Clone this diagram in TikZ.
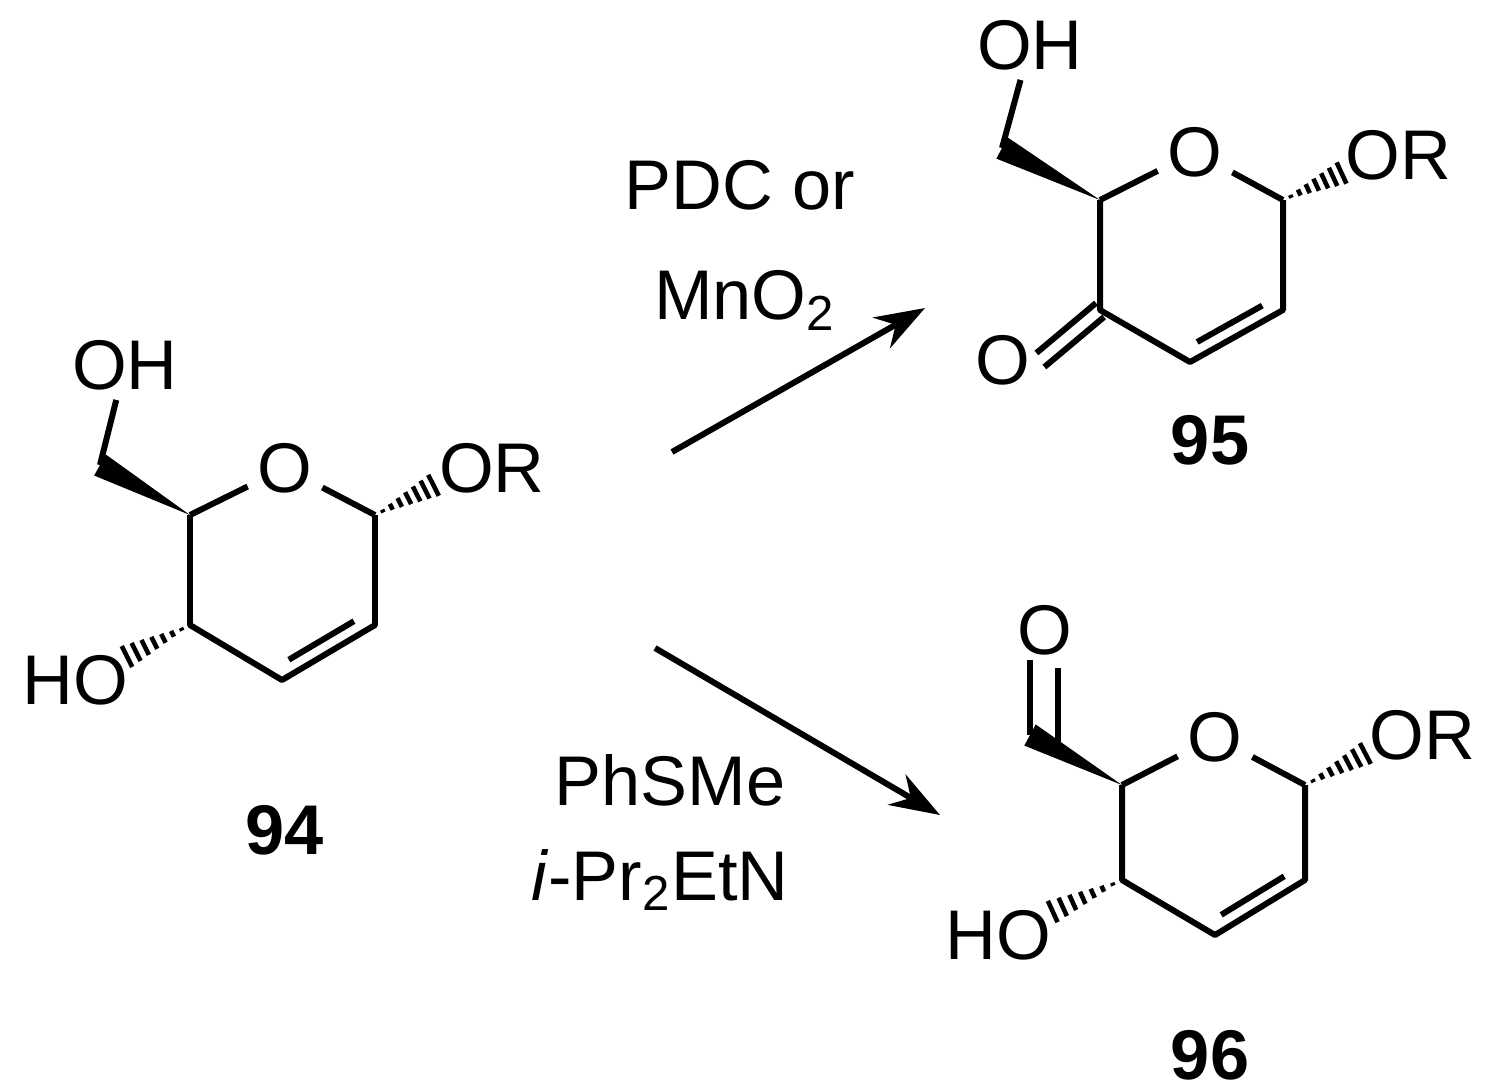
\documentclass[tikz,border=0pt]{standalone}
\usepackage{fontspec}
\setmainfont{Liberation Sans}
\usetikzlibrary{calc,arrows.meta}
\newcommand{\hashb}[2]{\foreach \t in {0.12,0.25,...,0.95}{\draw[line width=1.3pt] ($(#1)!\t!(#2)!{\t*0.13cm}!90:(#2)$) -- ($(#1)!\t!(#2)!{\t*0.13cm}!-90:(#2)$);}}
\newcommand{\wedgeb}[2]{\fill (#1) -- ($(#2)!0.12cm!90:(#1)$) -- ($(#2)!0.12cm!-90:(#1)$) -- cycle;}
\begin{document}
\begin{tikzpicture}[x=0.01cm,y=-0.01cm,line width=1.7pt,line join=round,
 atm/.style={font=\fontsize{20}{24}\selectfont,inner sep=2pt},
 num/.style={font=\fontsize{20}{24}\selectfont\bfseries},
 lab/.style={font=\fontsize{20}{24}\selectfont}]
\useasboundingbox (0,0) rectangle (1489,1090);
% ---- 94
\node[atm] (O94) at (285,468) {O};
\node[atm] (OH94) at (125,365) {OH};
\node[atm] (HO94) at (75,680) {HO};
\node[atm] (OR94) at (492,468) {OR};
\coordinate (a5) at (190,515); \coordinate (a4) at (190,625);
\coordinate (a3) at (282,680); \coordinate (a2) at (375,625);
\coordinate (a1) at (375,515); \coordinate (a6) at (100,465);
\draw (a5) -- (O94); \draw (O94) -- (a1); \draw (a1) -- (a2) -- (a3) -- (a4) -- (a5);
\draw ($(a3)!0.15!(a2)!0.14cm!90:(a2)$) -- ($(a3)!0.85!(a2)!0.14cm!-90:(a3)$);
\wedgeb{a5}{a6}
\draw (a6) -- (OH94);
\coordinate (h94) at (120,660); \hashb{a4}{h94}
\coordinate (r94) at (440,482); \hashb{a1}{r94}
\node[num] (n94) at (285,830) {94};
% ---- 95
\node[atm] (O95) at (1195,152) {O};
\node[atm] (OH95) at (1030,45) {OH};
\node[atm] (OR95) at (1398,155) {OR};
\node[atm] (K95) at (1003,360) {O};
\coordinate (b5) at (1100,200); \coordinate (b4) at (1100,310);
\coordinate (b3) at (1190,362); \coordinate (b2) at (1283,310);
\coordinate (b1) at (1283,200); \coordinate (b6) at (1002,148);
\draw (b5) -- (O95); \draw (O95) -- (b1); \draw (b1) -- (b2) -- (b3) -- (b4) -- (b5);
\draw ($(b3)!0.15!(b2)!0.14cm!90:(b2)$) -- ($(b3)!0.85!(b2)!0.14cm!-90:(b3)$);
\wedgeb{b5}{b6}
\draw (b6) -- (OH95);
\draw ([shift={(-4,-7)}]b4) -- ([shift={(-4,-7)}]K95.east);
\draw ([shift={(4,7)}]b4) -- ([shift={(4,7)}]K95.east);
\coordinate (r95) at (1348,170); \hashb{b1}{r95}
\node[num] (n95) at (1210,440) {95};
% ---- 96
\node[atm] (O96) at (1215,737) {O};
\node[atm] (OA96) at (1045,630) {O};
\node[atm] (HO96) at (998,935) {HO};
\node[atm] (OR96) at (1422,735) {OR};
\coordinate (c5) at (1122,785); \coordinate (c4) at (1122,880);
\coordinate (c3) at (1215,935); \coordinate (c2) at (1305,880);
\coordinate (c1) at (1305,785); \coordinate (c6) at (1030,735);
\draw (c5) -- (O96); \draw (O96) -- (c1); \draw (c1) -- (c2) -- (c3) -- (c4) -- (c5);
\draw ($(c3)!0.15!(c2)!0.14cm!90:(c2)$) -- ($(c3)!0.85!(c2)!0.14cm!-90:(c3)$);
\wedgeb{c5}{c6}
\draw (c6) -- (1030,660); \draw (1058,668) -- (1058,748);
\coordinate (h96) at (1045,915); \hashb{c4}{h96}
\coordinate (r96) at (1372,750); \hashb{c1}{r96}
\node[num] (n96) at (1210,1055) {96};
% ---- arrows
\coordinate (s1) at (672,452); \coordinate (e1) at (925,308);
\coordinate (s2) at (655,648); \coordinate (e2) at (940,815);
\draw[-{Stealth[length=0.5cm,width=0.35cm]}] (s1) -- (e1);
\draw[-{Stealth[length=0.5cm,width=0.35cm]}] (s2) -- (e2);
\node[lab] (l1) at (740,185) {PDC or};
\node[lab] (l2) at (745,300) {MnO\textsubscript{2}};
\node[lab] (l3) at (670,780) {PhSMe};
\node[lab] (l4) at (660,880) {\textit{i}-Pr\textsubscript{2}EtN};
\end{tikzpicture}
\end{document}
